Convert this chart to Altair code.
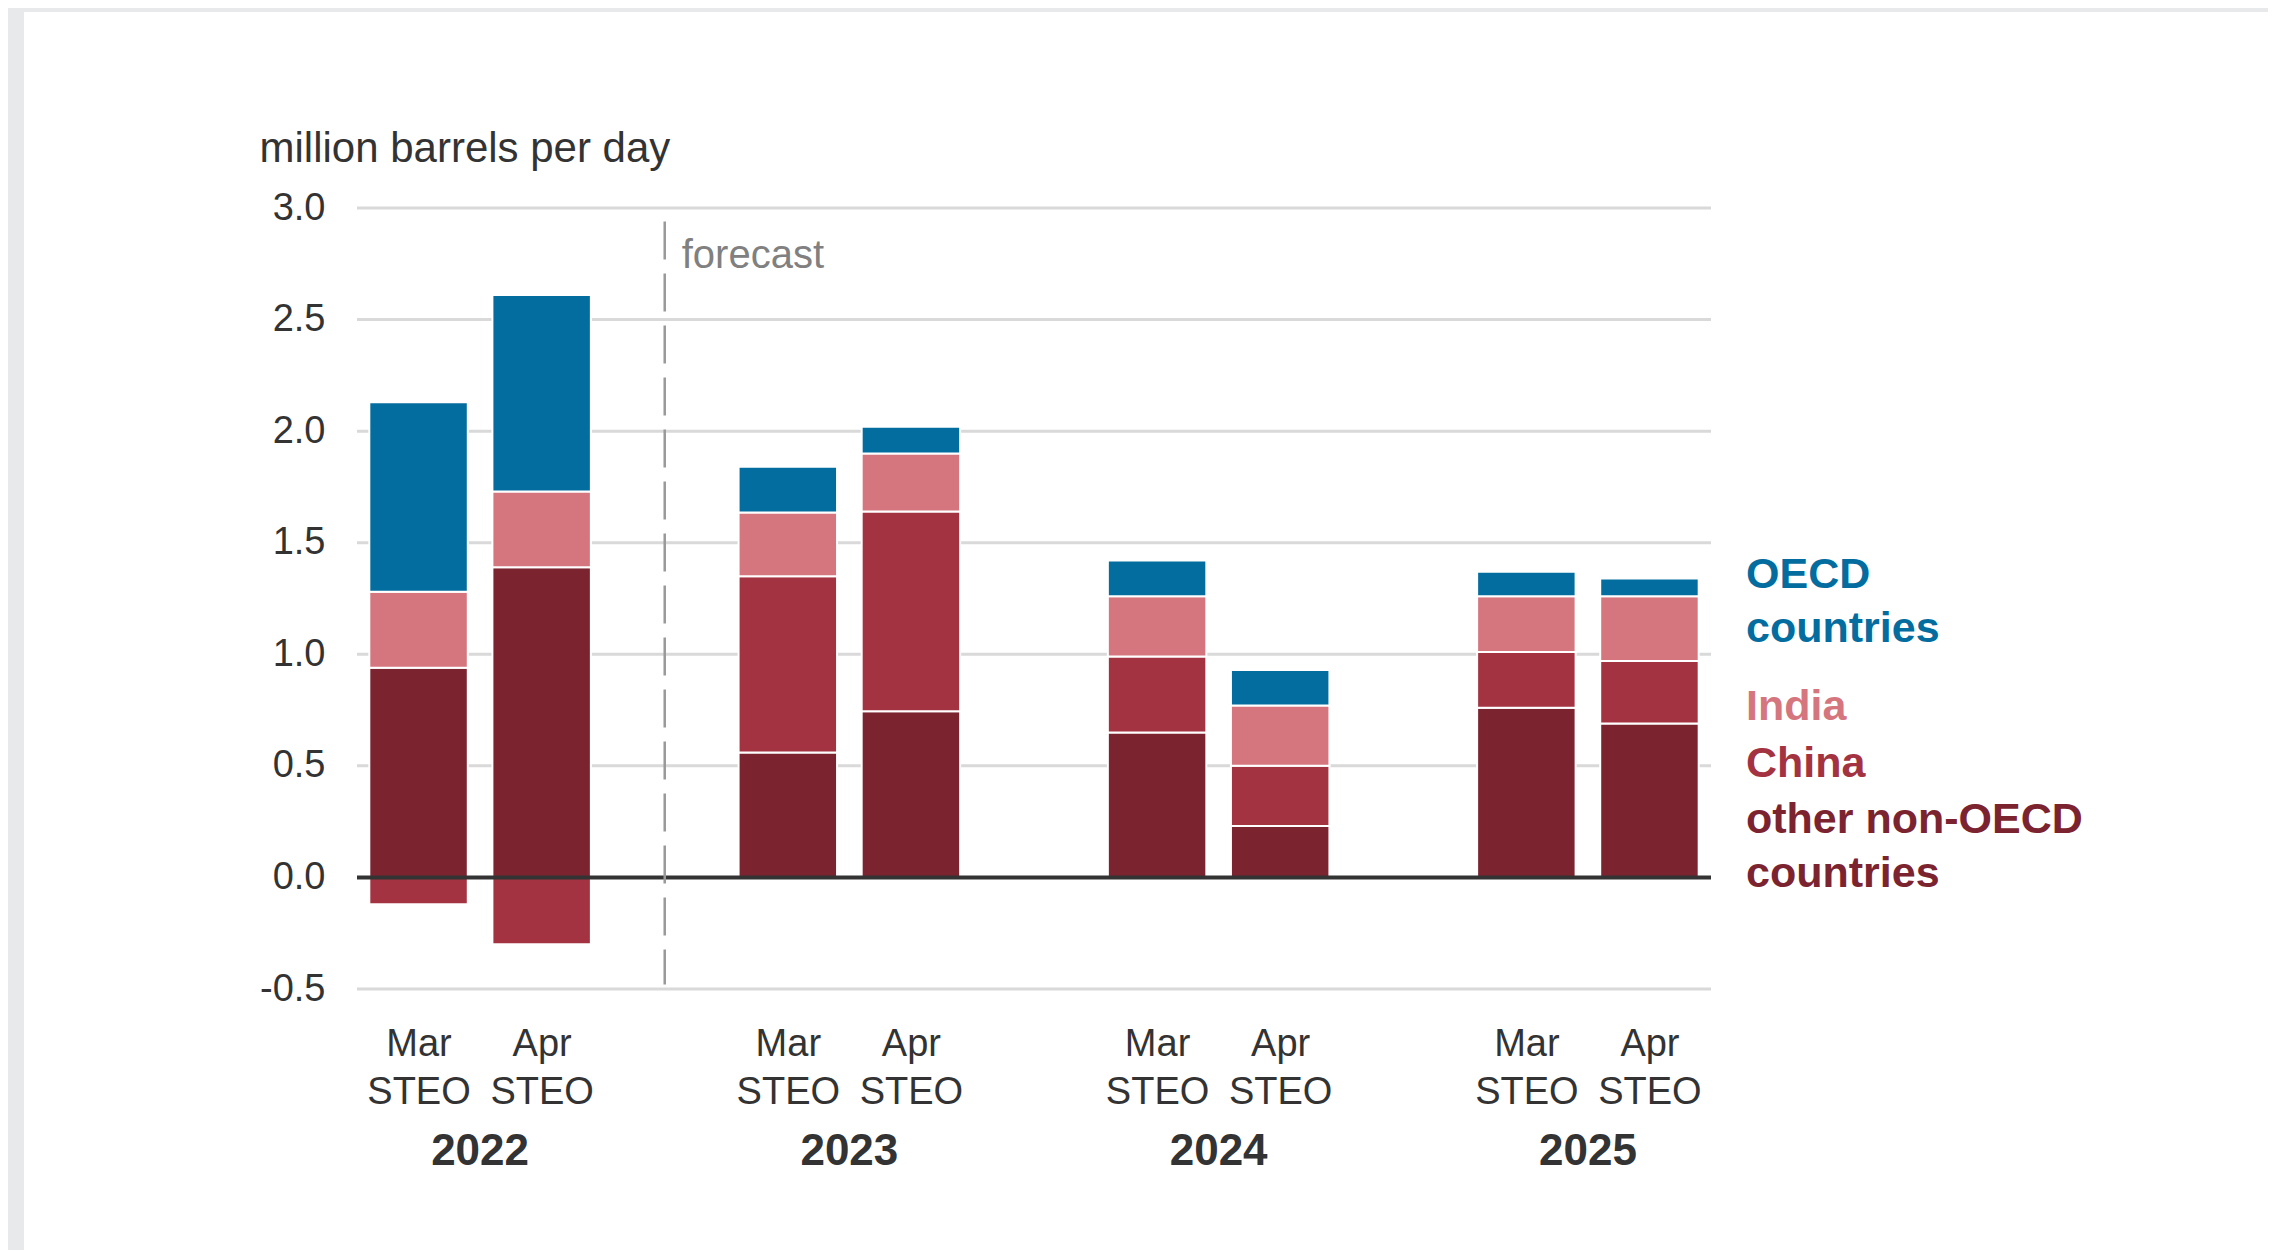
import altair as alt
import pandas as pd

# ---------------- data ----------------
YEARS = ["2022", "2023", "2024", "2025"]
EDITIONS = ["Mar", "Apr"]
SERIES = ["other non-OECD countries", "China", "India", "OECD countries"]
COLORS = ["#7b2430", "#a33340", "#d5767f", "#046d9f"]

# order of bars: 2022 Mar, 2022 Apr, 2023 Mar, 2023 Apr, 2024 Mar, 2024 Apr, 2025 Mar, 2025 Apr
OTHER = [0.94, 1.39, 0.56, 0.745, 0.65, 0.23, 0.76, 0.69]
CHINA = [-0.12, -0.30, 0.79, 0.895, 0.34, 0.27, 0.25, 0.28]
INDIA = [0.34, 0.34, 0.285, 0.26, 0.27, 0.27, 0.25, 0.29]
OECD = [0.85, 0.88, 0.205, 0.12, 0.16, 0.16, 0.11, 0.08]

Y_TICKS = [-0.5, 0.0, 0.5, 1.0, 1.5, 2.0, 2.5, 3.0]
Y_TITLE = "million barrels per day"
FORECAST_LABEL = "forecast"
FORECAST_SLOT = [2]
FORECAST_TOP = [2.94]
FORECAST_BOTTOM = [-0.48]

LEGEND_LINES = [["OECD", "countries"], ["India"], ["China"], ["other non-OECD", "countries"]]
LEGEND_SERIES = ["OECD countries", "India", "China", "other non-OECD countries"]

# ---------------- tables ----------------
values = [OTHER, CHINA, INDIA, OECD]
rows = []
slots = []
i = 0
for yi, yr in enumerate(YEARS):
    for ei, ed in enumerate(EDITIONS):
        slot = yi * 3 + ei
        slots.append(slot)
        for si, s in enumerate(SERIES):
            rows.append({"year": yr, "edition": ed, "slot": slot, "series": s,
                         "order": si, "value": values[si][i]})
        i += 1
df = pd.DataFrame(rows)
years_df = pd.DataFrame({"year": YEARS, "center": [yi * 3 + 0.5 for yi in range(len(YEARS))]})
grid_df = pd.DataFrame({"tick": [t for t in Y_TICKS if t != 0]})
zero_df = pd.DataFrame({"tick": [0.0]})
fc_df = pd.DataFrame({"slot": FORECAST_SLOT, "top": FORECAST_TOP, "bottom": FORECAST_BOTTOM,
                      "label": [FORECAST_LABEL]})
one = pd.DataFrame({"k": [0]})

# ---------------- layout ----------------
W, H = 1354, 781
PAD = {"left": 349, "top": 200, "right": 557, "bottom": 261}
FONT = "Liberation Sans, Arial, Helvetica, sans-serif"
TXT = "#333333"
FRAME = "#e8e9eb"

xscale = alt.Scale(domain=[-0.5, 10.5], nice=False, zero=False)
yscale = alt.Scale(domain=[-0.5, 3.0], nice=False, zero=False)
cscale = alt.Scale(domain=SERIES, range=COLORS)

# grey frame strips (top and left) around the white panel
top_strip = alt.Chart(one).mark_rect(color=FRAME).encode(
    x=alt.value(-PAD["left"]), x2=alt.value(W + PAD["right"]),
    y=alt.value(-PAD["top"]), y2=alt.value(-196),
)
left_strip = alt.Chart(one).mark_rect(color=FRAME).encode(
    x=alt.value(-PAD["left"]), x2=alt.value(-333),
    y=alt.value(-PAD["top"]), y2=alt.value(H + PAD["bottom"]),
)

grid = alt.Chart(grid_df).mark_rule(color="#d9d9d9", strokeWidth=3).encode(
    y=alt.Y("tick:Q", scale=yscale)
)

bars = alt.Chart(df).transform_stack(
    stack="value", groupby=["slot"], as_=["y0", "y1"],
    sort=[alt.SortField("order", order="ascending")], offset="zero",
).transform_calculate(
    x0="datum.slot - 0.4", x1="datum.slot + 0.4"
).mark_bar(stroke="white", strokeWidth=2).encode(
    x=alt.X("x0:Q", scale=xscale, title=None, axis=alt.Axis(
        values=slots, title=None,
        labelExpr="datum.value % 3 == 0 ? ['Mar', 'STEO'] : ['Apr', 'STEO']",
        grid=False, domain=False, ticks=False, labelFontSize=38, labelLineHeight=48,
        labelBaseline="alphabetic", labelPadding=66, labelColor=TXT, labelFont=FONT,
        labelFlush=False, labelOverlap=False)),
    x2="x1:Q",
    y=alt.Y("y0:Q", scale=yscale, axis=alt.Axis(
        values=Y_TICKS,
        labelExpr="datum.value < 0 ? '-' + format(-datum.value, '.1f') : format(datum.value, '.1f')",
        grid=False, domain=False, ticks=False, labelFontSize=38, labelPadding=32,
        labelColor=TXT, labelFont=FONT, labelOverlap=False,
        title=Y_TITLE, titleAngle=0, titleAlign="left", titleBaseline="alphabetic",
        titleX=-98, titleY=-47, titleFontSize=42, titleFontWeight="normal",
        titleColor=TXT, titleFont=FONT)),
    y2="y1:Q",
    color=alt.Color("series:N", scale=cscale, legend=None),
)

zero = alt.Chart(zero_df).mark_rule(color="#333333", strokeWidth=4).encode(
    y=alt.Y("tick:Q", scale=yscale)
)

fc_rule = alt.Chart(fc_df).mark_rule(color="#999999", strokeWidth=2.5, strokeDash=[38, 14]).encode(
    x=alt.X("slot:Q", scale=xscale),
    y=alt.Y("top:Q", scale=yscale),
    y2="bottom:Q",
)
fc_text = alt.Chart(fc_df).mark_text(align="left", baseline="alphabetic", dx=17, fontSize=40,
                                     color="#808080", font=FONT).encode(
    x=alt.X("slot:Q", scale=xscale),
    y=alt.value(60),
    text="label:N",
)

year_text = alt.Chart(years_df).mark_text(align="center", baseline="alphabetic", fontSize=44,
                                          fontWeight="bold", color=TXT, font=FONT).encode(
    x=alt.X("center:Q", scale=xscale),
    y=alt.value(957),
    text="year:N",
)

LEGEND_Y = [380, 512, 569, 625]
legend_layers = []
for lines, s, ly in zip(LEGEND_LINES, LEGEND_SERIES, LEGEND_Y):
    ldf = pd.DataFrame({"series": [s], "lines": [lines]})
    legend_layers.append(
        alt.Chart(ldf).mark_text(align="left", baseline="alphabetic", fontSize=43,
                                 fontWeight="bold", lineHeight=54, font=FONT).encode(
            x=alt.value(1389), y=alt.value(ly), text="lines",
            color=alt.Color("series:N", scale=cscale, legend=None),
        )
    )

chart = alt.layer(top_strip, left_strip, grid, bars, zero, fc_rule, fc_text, year_text,
                  *legend_layers).properties(
    width=W, height=H, padding=PAD, autosize="none", background="white",
).configure(font=FONT).configure_view(stroke=None)

chart.save("out.html", embed_options={"renderer": "svg", "actions": False})
